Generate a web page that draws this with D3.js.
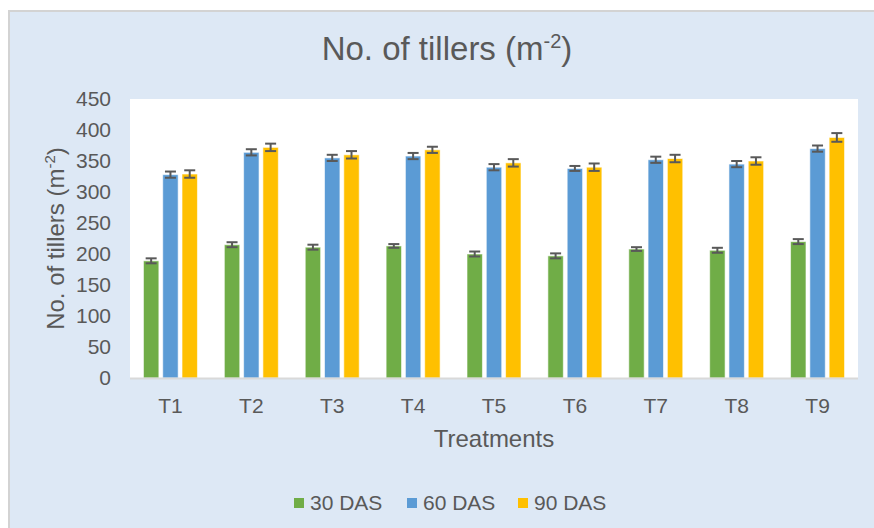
<!DOCTYPE html>
<html><head><meta charset="utf-8">
<script src="https://cdn.jsdelivr.net/npm/d3@7"></script>
<style>body{margin:0;background:#fff;} text{font-family:"Liberation Sans",Arial,sans-serif;fill:#595959;}</style>
</head><body>
<svg id="c" width="874" height="528"></svg>
<script>
const categories = ["T1","T2","T3","T4","T5","T6","T7","T8","T9"];
const seriesNames = ["30 DAS","60 DAS","90 DAS"];
const values30 = [189, 215, 211, 213, 200, 197, 208, 206, 220];
const values60 = [328, 364, 355, 358, 340, 338, 352, 345, 370];
const values90 = [329, 372, 360, 368, 347, 340, 354, 350, 388];
const err30 = [4, 4, 4, 3, 4, 4, 3, 4, 4];
const err60 = [5, 5, 5, 5, 5, 4, 5, 5, 5];
const err90 = [6, 6, 6, 5, 6, 6, 6, 6, 7];
const yTicks = [0,50,100,150,200,250,300,350,400,450];
const colors = ["#70ad47","#5b9bd5","#ffc000"];

const svg = d3.select("#c");
// outer chart background
svg.append("rect").attr("x",9).attr("y",11).attr("width",865).attr("height",517).attr("fill","#dde8f5");
svg.append("path").attr("d","M9,528V11H874").attr("fill","none").attr("stroke","#d3d3d3").attr("stroke-width",2);

const L=130,R=858,T=99,B=378;
svg.append("rect").attr("x",L).attr("y",T).attr("width",R-L).attr("height",B-T).attr("fill","#fff");

const x = d3.scaleBand().domain(categories).range([L,R]).padding(0);
const y = d3.scaleLinear().domain([0,450]).range([B,T]);
const sub = d3.scaleBand().domain(seriesNames).range([-27,27]).paddingInner(0.2).paddingOuter(0);

const series = [values30, values60, values90];
const errs = [err30, err60, err90];

series.forEach((vals,si)=>{
  const g = svg.append("g");
  categories.forEach((c,i)=>{
    const bx = x(c)+x.bandwidth()/2+sub(seriesNames[si]);
    const bw = sub.bandwidth();
    g.append("rect").attr("x",bx).attr("y",y(vals[i])).attr("width",bw).attr("height",B-y(vals[i]))
      .attr("fill",colors[si]).attr("stroke","#fff").attr("stroke-opacity",0.6).attr("stroke-width",1);
    const cx = bx+bw/2, e = errs[si][i];
    const eg = g.append("g").attr("stroke","#595959").attr("stroke-width",2);
    eg.append("line").attr("x1",cx).attr("x2",cx).attr("y1",y(vals[i]+e)).attr("y2",y(vals[i]-e));
    eg.append("line").attr("x1",cx-5.5).attr("x2",cx+5.5).attr("y1",y(vals[i]+e)).attr("y2",y(vals[i]+e));
    eg.append("line").attr("x1",cx-5.5).attr("x2",cx+5.5).attr("y1",y(vals[i]-e)).attr("y2",y(vals[i]-e));
  });
});

// baseline
svg.append("line").attr("x1",L).attr("x2",R).attr("y1",B+0.5).attr("y2",B+0.5).attr("stroke","#d9d9d9").attr("stroke-width",2);

// y axis
const ya = svg.append("g").attr("transform",`translate(${L},0)`)
  .call(d3.axisLeft(y).tickValues(yTicks).tickSize(0).tickPadding(19));
ya.select(".domain").remove();
ya.selectAll("text").attr("font-size",21).style("fill","#595959").attr("font-family","Liberation Sans, Arial, sans-serif");

// x axis
const xa = svg.append("g").attr("transform",`translate(0,${B})`)
  .call(d3.axisBottom(x).tickSize(0).tickPadding(20));
xa.select(".domain").remove();
xa.selectAll("text").attr("font-size",21).style("fill","#595959").attr("font-family","Liberation Sans, Arial, sans-serif");

// title
const t = svg.append("text").attr("x",447).attr("y",60).attr("text-anchor","middle").attr("font-size",33);
t.append("tspan").text("No. of tillers (m");
t.append("tspan").attr("font-size",20).attr("dy",-12).text("-2");
t.append("tspan").attr("dy",12).text(")");

// axis titles
svg.append("text").attr("x",(L+R)/2).attr("y",447).attr("text-anchor","middle").attr("font-size",24).text("Treatments");
const yt = svg.append("text").attr("transform",`translate(64,${(T+B)/2}) rotate(-90)`).attr("text-anchor","middle").attr("font-size",24);
yt.append("tspan").text("No. of tillers (m");
yt.append("tspan").attr("font-size",15).attr("dy",-9).text("-2");
yt.append("tspan").attr("dy",9).text(")");

// legend
const lg = svg.append("g");
const lx = [294, 407, 518];
seriesNames.forEach((n,i)=>{
  lg.append("rect").attr("x",lx[i]).attr("y",498).attr("width",10).attr("height",10).attr("fill",colors[i]);
  lg.append("text").attr("x",lx[i]+16).attr("y",509.5).attr("font-size",21).text(n);
});
</script>
</body></html>
